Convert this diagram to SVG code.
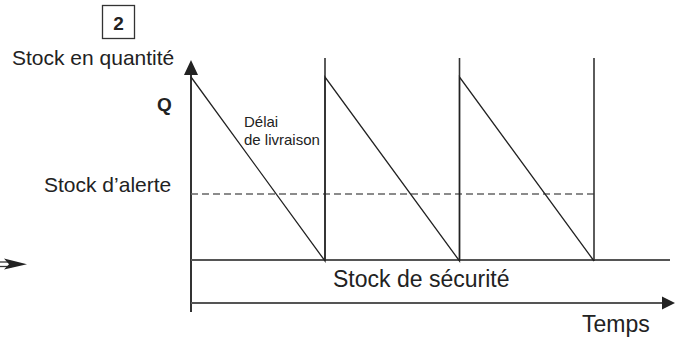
<svg xmlns="http://www.w3.org/2000/svg" width="676" height="338" viewBox="0 0 676 338">
<style>
text{font-family:"Liberation Sans",Arial,sans-serif;fill:#222}
.ax{stroke:#333;stroke-width:2;fill:none}
.h{stroke:#555;stroke-width:2;fill:none}
.v{stroke:#333;stroke-width:1.6;fill:none}
.saw{stroke:#222;stroke-width:1.3;fill:none}
.dash{stroke:#666;stroke-width:1.3;stroke-dasharray:7 4;fill:none}
</style>
<rect width="676" height="338" fill="#fff"/>
<g id="label-box">
<rect x="102.5" y="5.5" width="32" height="33" fill="#fff" stroke="#333" stroke-width="1.3"/>
<text x="118.5" y="30" font-size="19" font-weight="bold" text-anchor="middle">2</text>
</g>
<g id="axes">
<line class="ax" x1="191" y1="72" x2="191" y2="312"/>
<polygon points="191,60 184,75 198,75" fill="#222"/>
<line class="h" x1="191" y1="303" x2="663" y2="303"/>
<polygon points="675,303 662,296.5 662,309.5" fill="#222"/>
</g>
<g id="lines">
<line class="h" x1="191" y1="260" x2="670" y2="260"/>
<line class="dash" x1="191" y1="194" x2="594" y2="194"/>
<line class="v" x1="325" y1="58" x2="325" y2="261"/>
<line class="v" x1="459.5" y1="58" x2="459.5" y2="261"/>
<line class="v" x1="594" y1="58" x2="594" y2="261"/>
<polyline class="saw" points="191,77 325,261 325,77 459.5,261 459.5,77 594,261"/>
</g>
<g id="left-arrow">
<line x1="0" y1="262" x2="12" y2="262" stroke="#333" stroke-width="1.3"/>
<line x1="0" y1="266.5" x2="12" y2="266.5" stroke="#333" stroke-width="1.3"/>
<polygon points="4,258.5 27,264.3 4,269.5 9,264.3" fill="#222"/>
</g>
<g id="labels">
<text x="12" y="65" font-size="21">Stock en quantité</text>
<text x="157" y="111" font-size="19" font-weight="bold">Q</text>
<text x="44" y="192" font-size="21">Stock d’alerte</text>
<text x="244" y="127" font-size="15">Délai</text>
<text x="244" y="145" font-size="15">de livraison</text>
<text x="333" y="287" font-size="23">Stock de sécurité</text>
<text x="582" y="332" font-size="23">Temps</text>
</g>
</svg>
